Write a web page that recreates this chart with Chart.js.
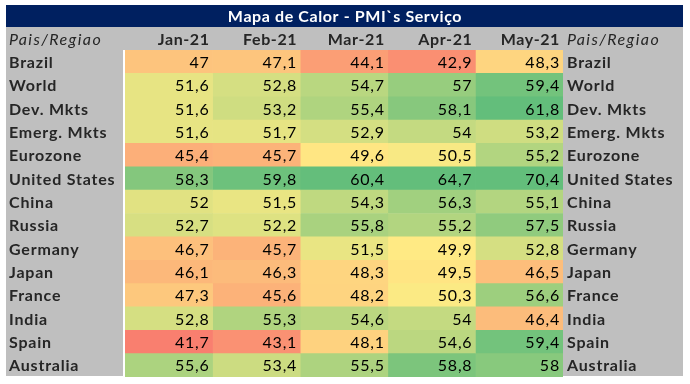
<!DOCTYPE html>
<html>
<head>
<meta charset="utf-8">
<script src="https://cdn.jsdelivr.net/npm/chart.js@4.4.1/dist/chart.umd.min.js"></script>
<style>
  body { margin: 0; background: #ffffff; }
  #wrap { width: 690px; height: 384px; }
</style>
</head>
<body>
<div id="wrap"><canvas id="heat" width="690" height="384"></canvas></div>
<script>
// rows and columns of the heat map
const regions = ["Brazil", "World", "Dev. Mkts", "Emerg. Mkts", "Eurozone", "United States", "China",
  "Russia", "Germany", "Japan", "France", "India", "Spain", "Australia"];
const months = ["Jan-21", "Feb-21", "Mar-21", "Apr-21", "May-21"];
const title = "Mapa de Calor - PMI`s Serviço";
const colHeader = "Pais/Regiao";

// PMI values per month, same order as regions
const jan21 = [47, 51.6, 51.6, 51.6, 45.4, 58.3, 52, 52.7, 46.7, 46.1, 47.3, 52.8, 41.7, 55.6];
const feb21 = [47.1, 52.8, 53.2, 51.7, 45.7, 59.8, 51.5, 52.2, 45.7, 46.3, 45.6, 55.3, 43.1, 53.4];
const mar21 = [44.1, 54.7, 55.4, 52.9, 49.6, 60.4, 54.3, 55.8, 51.5, 48.3, 48.2, 54.6, 48.1, 55.5];
const apr21 = [42.9, 57, 58.1, 54, 50.5, 64.7, 56.3, 55.2, 49.9, 49.5, 50.3, 54, 54.6, 58.8];
const may21 = [48.3, 59.4, 61.8, 53.2, 55.2, 70.4, 55.1, 57.5, 52.8, 46.5, 56.6, 46.4, 59.4, 58];
const series = [jan21, feb21, mar21, apr21, may21];

// red - yellow - green scale like excel
function mix(a, b, t) {
  t = Math.max(0, Math.min(1, t));
  return "rgb(" + a.map((c, i) => Math.round(c + (b[i] - c) * t)).join(",") + ")";
}
function heatColor(v) {
  const red = [248, 105, 107], yellow = [255, 235, 132], green = [99, 190, 123];
  if (v < 50) return mix(red, yellow, (v - 40) / 10);
  return mix(yellow, green, (v - 50) / 10.5);
}

const FONT = "Lato, 'Open Sans', sans-serif";
const labelColor = "#262626";

const tablePlugin = {
  id: "tablePlugin",
  beforeDatasetsDraw(chart) {
    const ctx = chart.ctx, a = chart.chartArea;
    ctx.save();
    ctx.fillStyle = "#002060";
    ctx.fillRect(6, 5, 677, 22);
    ctx.fillStyle = "#bfbfbf";
    ctx.fillRect(6, 27, 677, a.top - 27);
    ctx.fillRect(6, a.top, a.left - 8, a.bottom - a.top - 1);
    ctx.fillRect(a.right, a.top, 683 - a.right, a.bottom - a.top - 1);
    ctx.restore();
  },
  afterDatasetsDraw(chart) {
    const ctx = chart.ctx, a = chart.chartArea;
    const xs = chart.scales.x, ys = chart.scales.y;
    ctx.save();
    ctx.textBaseline = "middle";
    // title
    ctx.fillStyle = "#ffffff";
    ctx.font = "bold 16px " + FONT;
    ctx.letterSpacing = "0.6px";
    ctx.textAlign = "center";
    ctx.fillText(title, 345, 16.5);
    // header row
    const hy = (27 + a.top) / 2 + 1;
    ctx.fillStyle = labelColor;
    ctx.font = "italic 16px " + FONT;
    ctx.letterSpacing = "1.4px";
    ctx.textAlign = "left";
    ctx.fillText(colHeader, 9, hy);
    ctx.fillText(colHeader, a.right + 4, hy);
    ctx.font = "bold 16px " + FONT;
    ctx.letterSpacing = "0.6px";
    ctx.textAlign = "right";
    months.forEach((m, j) => ctx.fillText(m, xs.getPixelForValue(j + 1) - 3, hy));
    // row labels
    ctx.textAlign = "left";
    ctx.letterSpacing = "0.8px";
    regions.forEach((r, i) => {
      const y = ys.getPixelForValue(i) + 1;
      ctx.fillText(r, 9, y);
      ctx.fillText(r, a.right + 4, y);
    });
    // values
    ctx.fillStyle = "#000000";
    ctx.font = "16px " + FONT;
    ctx.letterSpacing = "0.8px";
    ctx.textAlign = "right";
    chart.data.datasets.forEach((ds, j) => {
      chart.getDatasetMeta(j).data.forEach((bar, i) => {
        const v = series[j][i];
        ctx.fillText(String(v).replace(".", ","), bar.x - 3, bar.y + 1);
      });
    });
    ctx.restore();
  }
};

new Chart(document.getElementById("heat"), {
  type: "bar",
  plugins: [tablePlugin],
  data: {
    labels: regions,
    datasets: months.map((m, j) => ({
      label: m,
      data: regions.map(() => 1),
      backgroundColor: series[j].map(heatColor),
      borderWidth: 0,
      barPercentage: 1,
      categoryPercentage: 1
    }))
  },
  options: {
    indexAxis: "y",
    responsive: false,
    animation: false,
    layout: { padding: { left: 125, right: 127, top: 50, bottom: 7 } },
    scales: {
      x: { stacked: true, min: 0, max: 5, display: false },
      y: { stacked: true, display: false }
    },
    plugins: {
      legend: { display: false },
      tooltip: { enabled: false },
      title: { display: false }
    }
  }
});
</script>
</body>
</html>
